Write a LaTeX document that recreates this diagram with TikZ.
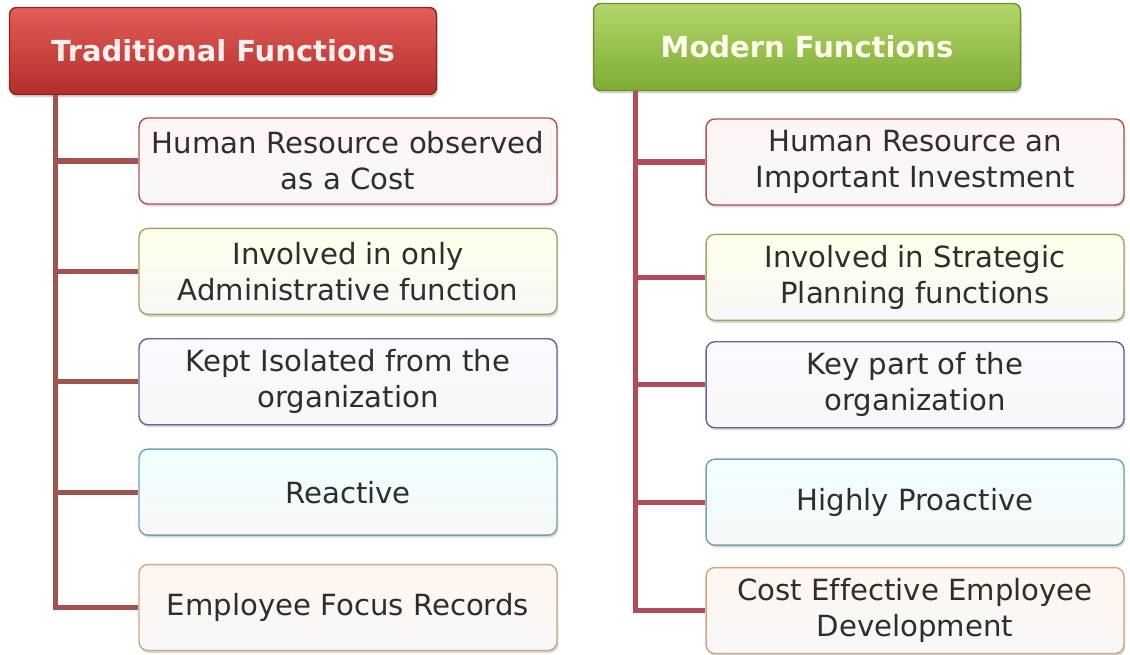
\documentclass[tikz,border=0pt]{standalone}
\usepackage{fontspec}
\setmainfont{DejaVu Sans}[Ligatures={NoCommon}]
\usepackage{xcolor}
\usetikzlibrary{positioning,shadows}
\definecolor{redtop}{HTML}{E25C58}
\definecolor{redbot}{HTML}{B32E2A}
\definecolor{redline}{HTML}{8C2420}
\definecolor{greentop}{HTML}{B3D66A}
\definecolor{greenbot}{HTML}{7DAC34}
\definecolor{greenline}{HTML}{6C8E2C}
\definecolor{lspine}{HTML}{A0544E}
\definecolor{rspine}{HTML}{B24C5C}
\definecolor{boxtext}{HTML}{2E2E2E}

\begin{document}
\begin{tikzpicture}[x=0.02cm,y=-0.02cm,node distance=0.46cm,
  head/.style={rounded corners=4pt,minimum width=8.54cm,minimum height=1.74cm,line width=0.8pt,
    font=\bfseries\fontsize{16.5}{19}\selectfont,
    drop shadow={shadow xshift=0.8pt,shadow yshift=-1.6pt,opacity=0.35}},
  headred/.style={head,draw=redline,top color=redtop,bottom color=redbot,text=red!6},
  headgreen/.style={head,draw=greenline,top color=greentop,bottom color=greenbot,text=yellow!8},
  item/.style={rounded corners=5pt,minimum width=8.36cm,minimum height=1.72cm,line width=0.8pt,
    align=center,text=boxtext,font=\fontsize{16.6}{20.5}\selectfont,
    drop shadow={shadow xshift=0.8pt,shadow yshift=-1.4pt,opacity=0.3}},
  itemred/.style={item,draw=red!35!gray,top color=red!4,bottom color=gray!6},
  itemolive/.style={item,draw=olive!45!gray!80,top color=yellow!8,bottom color=gray!6},
  itemgray/.style={item,draw=blue!20!gray,top color=blue!2,bottom color=gray!6},
  itemblue/.style={item,draw=cyan!35!gray,top color=cyan!6,bottom color=gray!6},
  itemorange/.style={item,draw=orange!45!gray!70,top color=orange!6,bottom color=gray!6},
  spine/.style={line width=3pt}]
  \useasboundingbox (0,0) rectangle (1130,654);

  % traditional column
  \node[headred] (lhead) at (223,51) {Traditional Functions};
  \node[itemred] (l1) at (348,161) {Human Resource observed\\as a Cost};
  \node[itemolive, below=of l1] (l2) {Involved in only\\Administrative function};
  \node[itemgray, below=of l2] (l3) {Kept Isolated from the\\organization};
  \node[itemblue, below=of l3] (l4) {Reactive};
  \node[itemorange, below=0.56cm of l4] (l5) {Employee Focus Records};

  % modern column
  \node[headgreen] (rhead) at (807,47) {Modern Functions};
  \node[itemred] (r1) at (915,162) {Human Resource an\\Important Investment};
  \node[itemolive, below=0.56cm of r1] (r2) {Involved in Strategic\\Planning functions};
  \node[itemgray, below=0.4cm of r2] (r3) {Key part of the\\organization};
  \node[itemblue, below=0.6cm of r3] (r4) {Highly Proactive};
  \node[itemorange, below=0.42cm of r4] (r5) {Cost Effective Employee\\Development};

  \coordinate (ltop) at ([xshift=0.94cm]lhead.south west);
  \coordinate (rtop) at ([xshift=0.86cm]rhead.south west);

  \draw[spine,lspine] (ltop) |- (l5.west);
  \path[spine,draw=lspine]
    (l1.west) edge (l1.west -| ltop)
    (l2.west) edge (l2.west -| ltop)
    (l3.west) edge (l3.west -| ltop)
    (l4.west) edge (l4.west -| ltop);

  \draw[spine,rspine] (rtop) |- (r5.west);
  \path[spine,draw=rspine]
    (r1.west) edge (r1.west -| rtop)
    (r2.west) edge (r2.west -| rtop)
    (r3.west) edge (r3.west -| rtop)
    (r4.west) edge (r4.west -| rtop);
\end{tikzpicture}
\end{document}
